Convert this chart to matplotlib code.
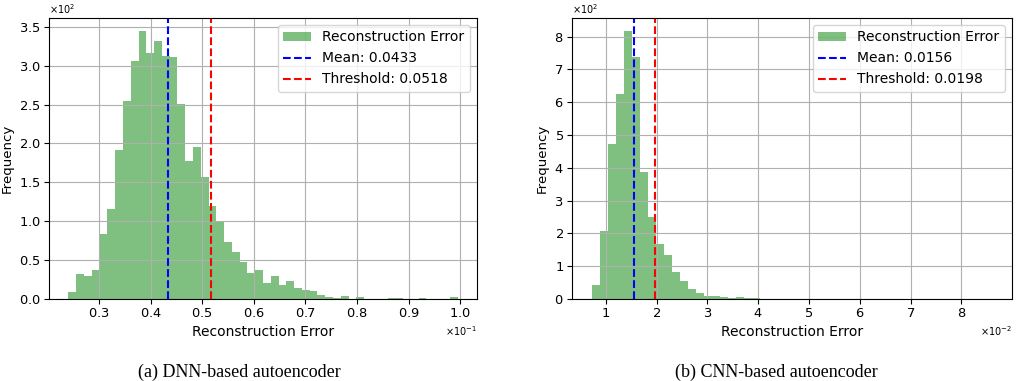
import matplotlib
matplotlib.use("Agg")
import matplotlib.pyplot as plt
import numpy as np

# DNN autoencoder: 50 bins between min and max error
dnn_min = 0.0241
dnn_max = 0.0995
dnn_counts = [9, 32, 30, 37, 83, 116, 191, 254, 306, 344,
              316, 332, 312, 311, 251, 178, 196, 157, 119, 100,
              73, 61, 48, 33, 37, 21, 30, 18, 23, 14,
              12, 10, 5, 3, 1, 4, 0, 2, 0, 0,
              0, 1, 1, 0, 0, 1, 0, 0, 0, 2]
dnn_mean = 0.0433
dnn_threshold = 0.0518

# CNN autoencoder
cnn_min = 0.0073
cnn_max = 0.0860
cnn_counts = [43, 208, 474, 626, 816, 738, 388, 249, 167, 134,
              83, 55, 30, 19, 10, 8, 6, 4, 5, 3,
              3, 1, 1, 0, 0, 1, 0, 0, 0, 0,
              0, 0, 0, 0, 1, 0, 0, 0, 0, 0,
              0, 0, 0, 0, 0, 0, 0, 0, 0, 1]
cnn_mean = 0.0156
cnn_threshold = 0.0198

captions = ["(a) DNN-based autoencoder", "(b) CNN-based autoencoder"]


def plot_errors(ax, lo, hi, counts, mean, threshold):
    edges = np.linspace(lo, hi, len(counts) + 1)
    ax.hist(edges[:-1], bins=edges, weights=counts, color='green', alpha=0.5,
            label='Reconstruction Error')
    ax.axvline(mean, color='blue', linestyle='--', label=f'Mean: {mean:.4f}')
    ax.axvline(threshold, color='red', linestyle='--', label=f'Threshold: {threshold:.4f}')
    ax.set_xlabel('Reconstruction Error', fontsize=10, labelpad=3)
    ax.set_ylabel('Frequency', fontsize=9.6, labelpad=4)
    ax.ticklabel_format(style='sci', axis='both', scilimits=(0, 0), useMathText=True)
    ax.tick_params(labelsize=9.4, pad=2.5)
    ax.xaxis.get_offset_text().set_fontsize(7)
    ax.yaxis.get_offset_text().set_fontsize(7)
    ax.grid(True)
    ax.legend(loc='upper right', fontsize=10)


fig = plt.figure(figsize=(10.19, 3.81), dpi=100)
ax1 = fig.add_axes([0.0481, 0.2152, 0.4200, 0.7376])
ax2 = fig.add_axes([0.5613, 0.2152, 0.4318, 0.7376])

plot_errors(ax1, dnn_min, dnn_max, dnn_counts, dnn_mean, dnn_threshold)
plot_errors(ax2, cnn_min, cnn_max, cnn_counts, cnn_mean, cnn_threshold)

fig.text(0.235, 0.0105, captions[0], family='Liberation Serif', fontsize=13, ha='center', va='baseline')
fig.text(0.7615, 0.0105, captions[1], family='Liberation Serif', fontsize=13, ha='center', va='baseline')

fig.savefig('out.png', dpi=100)
